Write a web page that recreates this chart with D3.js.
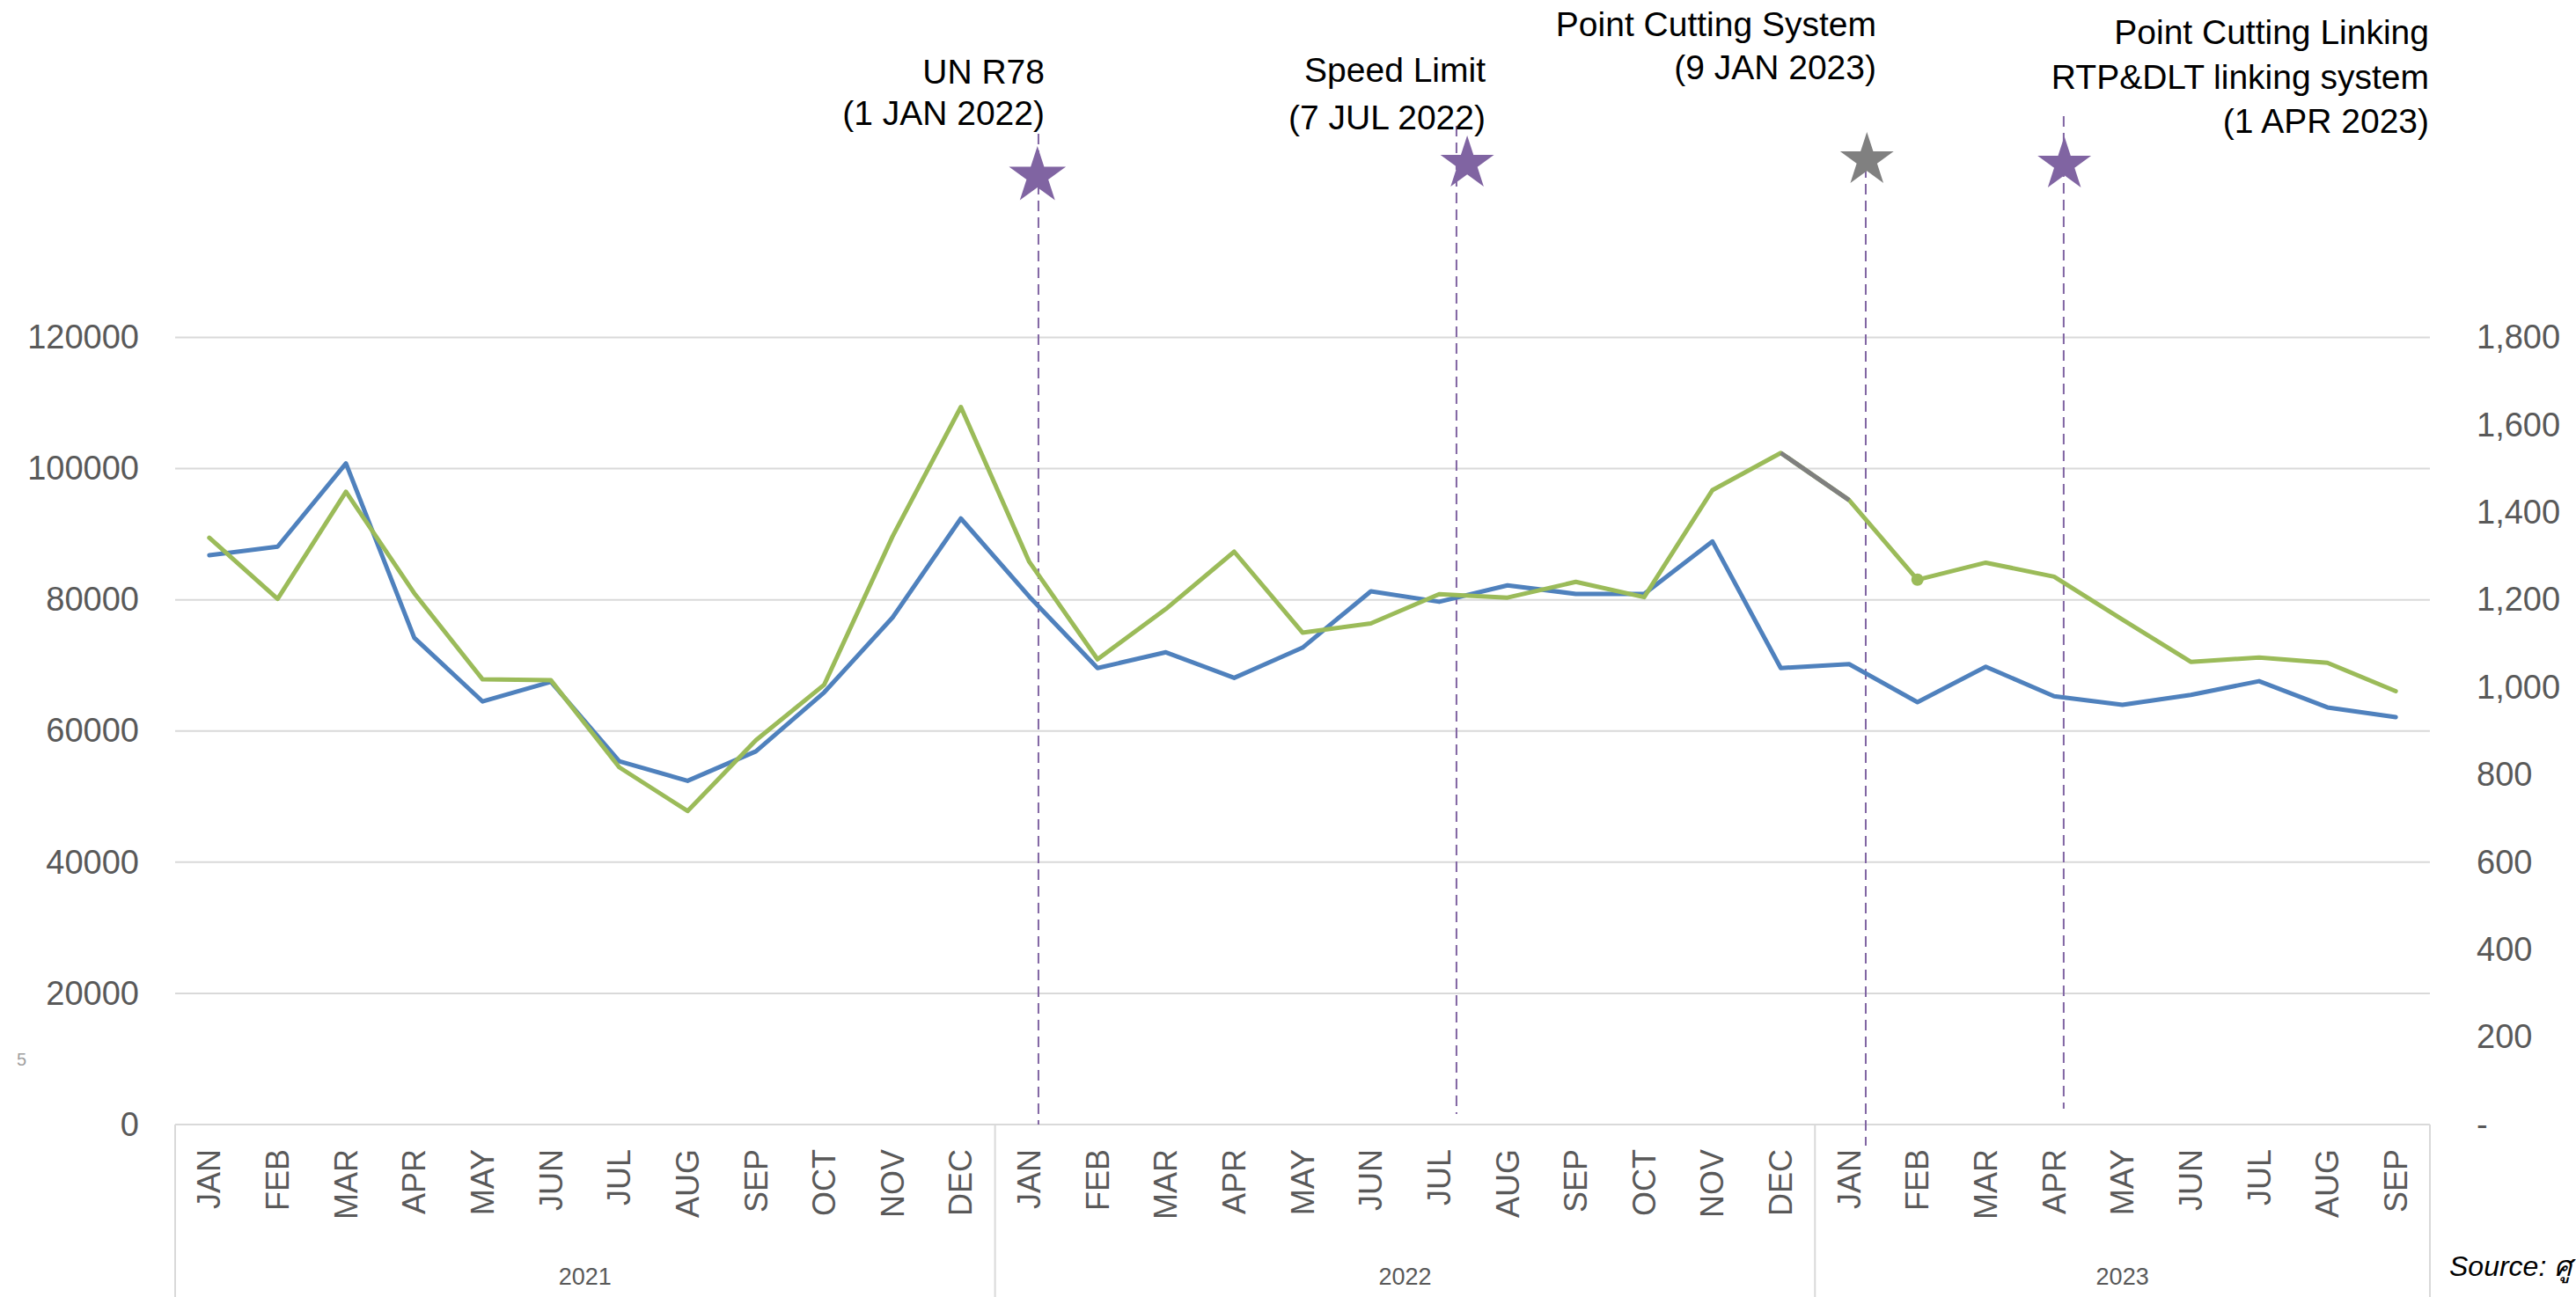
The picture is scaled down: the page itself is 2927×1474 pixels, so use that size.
<!DOCTYPE html>
<html><head><meta charset="utf-8">
<script src="https://cdn.jsdelivr.net/npm/d3@7/dist/d3.min.js"></script>
<style>body{margin:0;background:#fff}svg{display:block}</style>
</head><body>
<svg id="chart" width="2927" height="1474"></svg>
<script>
// ---------------- DATA ----------------
const monthLabels = ["JAN","FEB","MAR","APR","MAY","JUN","JUL","AUG","SEP","OCT","NOV","DEC",
                     "JAN","FEB","MAR","APR","MAY","JUN","JUL","AUG","SEP","OCT","NOV","DEC",
                     "JAN","FEB","MAR","APR","MAY","JUN","JUL","AUG","SEP"];
const yearLabels = ["2021","2022","2023"];
const monthsPerYear = [12, 12, 9];
// blue series (left axis)
const blueValues = [86800, 88100, 100800, 74200, 64500, 67500, 55400, 52400, 56900, 65900, 77300, 92400,
                    80500, 69600, 72000, 68100, 72700, 81300, 79700, 82200, 80900, 80900, 88900, 69600,
                    70200, 64400, 69800, 65300, 64000, 65500, 67600, 63600, 62100];
// green series (right axis)
const greenValues = [1342, 1202, 1447, 1215, 1018, 1016, 817, 717, 879, 1006, 1345, 1641,
                     1287, 1064, 1179, 1310, 1125, 1146, 1213, 1205, 1241, 1206, 1451, 1536,
                     1428, 1246, 1285, 1253, 1155, 1058, 1068, 1056, 991];
const grayIdx = [23, 24];      // segment drawn in grey
const dotIdx = [25];           // marker on green line
const leftTicks = [0, 20000, 40000, 60000, 80000, 100000, 120000];
const rightTicks = [0, 200, 400, 600, 800, 1000, 1200, 1400, 1600, 1800];
const eventLabels = [["UN R78", "(1 JAN 2022)"],
                     ["Speed Limit", "(7 JUL 2022)"],
                     ["Point Cutting System", "(9 JAN 2023)"],
                     ["Point Cutting Linking", "RTP&DLT linking system", "(1 APR 2023)"]];
const eventMonthPos = [12.635, 18.753, 24.743, 27.64];   // position in month units

// ---------------- LAYOUT ----------------
const L = {left: 199, right: 2761, top: 383.5, bottom: 1278};
const eventLayout = [
  {starM: 12.62, starY: 200, starR: 34, star: "#8064A2", y0: 152, y1: 1278, tx: 1187, bl: [95, 142]},
  {starM: 18.91, starY: 186, starR: 32, star: "#8064A2", y0: 143, y1: 1266, tx: 1688, bl: [93, 147]},
  {starM: 24.76, starY: 182, starR: 32, star: "#808080", y0: 190, y1: 1302, tx: 2132, bl: [41, 90]},
  {starM: 27.65, starY: 187, starR: 32, star: "#8064A2", y0: 132, y1: 1260, tx: 2760, bl: [50, 101, 151]}
];
const FONT = "'Liberation Sans', Arial, sans-serif";

const svg = d3.select("#chart");
svg.append("rect").attr("width", 2927).attr("height", 1474).attr("fill", "#fff");

const idx = d3.range(monthLabels.length);
const x = d3.scaleBand().domain(idx).range([L.left, L.right]).padding(0);
const bw = x.bandwidth();
const xm = d3.scaleLinear().domain([0, monthLabels.length]).range([L.left, L.right]);
const yL = d3.scaleLinear().domain([0, 120000]).range([L.bottom, L.top]);
const yR = d3.scaleLinear().domain([0, 1800]).range([L.bottom, L.top]);

// gridlines
svg.append("g").selectAll("line").data(leftTicks).join("line")
  .attr("x1", L.left).attr("x2", L.right)
  .attr("y1", d => yL(d)).attr("y2", d => yL(d))
  .attr("stroke", "#D9D9D9").attr("stroke-width", 2);

// left axis
const gL = svg.append("g").attr("transform", `translate(${L.left},0)`)
  .call(d3.axisLeft(yL).tickValues(leftTicks).tickSize(0).tickPadding(41).tickFormat(d => String(d)));
gL.select(".domain").remove();
gL.selectAll("text").attr("font-family", FONT).attr("font-size", 38).attr("fill", "#595959");

// right axis
const gR = svg.append("g").attr("transform", `translate(${L.right},0)`)
  .call(d3.axisRight(yR).tickValues(rightTicks).tickSize(0).tickPadding(53)
    .tickFormat(d => d === 0 ? "-" : d3.format(",")(d)));
gR.select(".domain").remove();
gR.selectAll("text").attr("font-family", FONT).attr("font-size", 38).attr("fill", "#595959");

// bottom category axis (months)
const gB = svg.append("g").attr("transform", `translate(0,${L.bottom})`)
  .call(d3.axisBottom(x).tickSize(0).tickFormat(i => monthLabels[i]));
gB.select(".domain").remove();
gB.selectAll("text")
  .attr("transform", "rotate(-90)")
  .attr("text-anchor", "end")
  .attr("x", -28).attr("y", 0).attr("dy", "0.35em")
  .attr("font-family", FONT).attr("font-size", 36).attr("fill", "#595959");

// year group separators
const bounds = [0];
monthsPerYear.forEach((n, i) => bounds.push(bounds[i] + n));
svg.append("g").selectAll("line").data(bounds).join("line")
  .attr("x1", d => xm(d)).attr("x2", d => xm(d))
  .attr("y1", L.bottom).attr("y2", 1474)
  .attr("stroke", "#D9D9D9").attr("stroke-width", 2);
svg.append("g").selectAll("text").data(yearLabels).join("text")
  .attr("x", (d, i) => xm((bounds[i] + bounds[i + 1]) / 2))
  .attr("y", 1460).attr("text-anchor", "middle")
  .attr("font-family", FONT).attr("font-size", 27).attr("fill", "#595959")
  .text(d => d);

// event dashed lines
svg.append("g").selectAll("line").data(eventMonthPos).join("line")
  .attr("x1", d => xm(d)).attr("x2", d => xm(d))
  .attr("y1", (d, i) => eventLayout[i].y0).attr("y2", (d, i) => eventLayout[i].y1)
  .attr("stroke", "#8064A2").attr("stroke-width", 2).attr("stroke-dasharray", "12,7");

// series lines
const lineL = d3.line().x(i => x(i) + bw / 2).y(i => yL(blueValues[i]));
const lineR = d3.line().x(i => x(i) + bw / 2).y(i => yR(greenValues[i]));
svg.append("path").attr("d", lineL(idx)).attr("fill", "none")
  .attr("stroke", "#4F81BD").attr("stroke-width", 5).attr("stroke-linejoin", "round").attr("stroke-linecap", "round");
svg.append("path").attr("d", lineR(idx)).attr("fill", "none")
  .attr("stroke", "#9BBB59").attr("stroke-width", 5).attr("stroke-linejoin", "round").attr("stroke-linecap", "round");
svg.append("path").attr("d", lineR(grayIdx)).attr("fill", "none")
  .attr("stroke", "#7F7F7F").attr("stroke-width", 5).attr("stroke-linecap", "butt");
svg.append("g").selectAll("circle").data(dotIdx).join("circle")
  .attr("cx", i => x(i) + bw / 2).attr("cy", i => yR(greenValues[i]))
  .attr("r", 7).attr("fill", "#9BBB59");

// stars
const ka = 0.8908130915292852;
svg.append("g").selectAll("path").data(eventLayout).join("path")
  .attr("d", d => d3.symbol(d3.symbolStar, d.starR * d.starR / ka)())
  .attr("transform", d => `translate(${xm(d.starM)},${d.starY})`)
  .attr("fill", d => d.star);

// event labels
const gT = svg.append("g");
eventLabels.forEach((lines, i) => {
  gT.append("text")
    .attr("text-anchor", "end").attr("font-family", FONT).attr("font-size", 39).attr("fill", "#000")
    .selectAll("tspan").data(lines).join("tspan")
    .attr("x", eventLayout[i].tx).attr("y", (d, j) => eventLayout[i].bl[j]).text(d => d);
});

// misc text
svg.append("text").attr("x", 19).attr("y", 1211).attr("font-family", FONT)
  .attr("font-size", 20).attr("fill", "#A0A0A0").text("5");
svg.append("text").attr("x", 2783).attr("y", 1450).attr("font-family", FONT)
  .attr("font-style", "italic").attr("font-size", 32).attr("fill", "#000").text("Source: ศู");
</script>
</body></html>
